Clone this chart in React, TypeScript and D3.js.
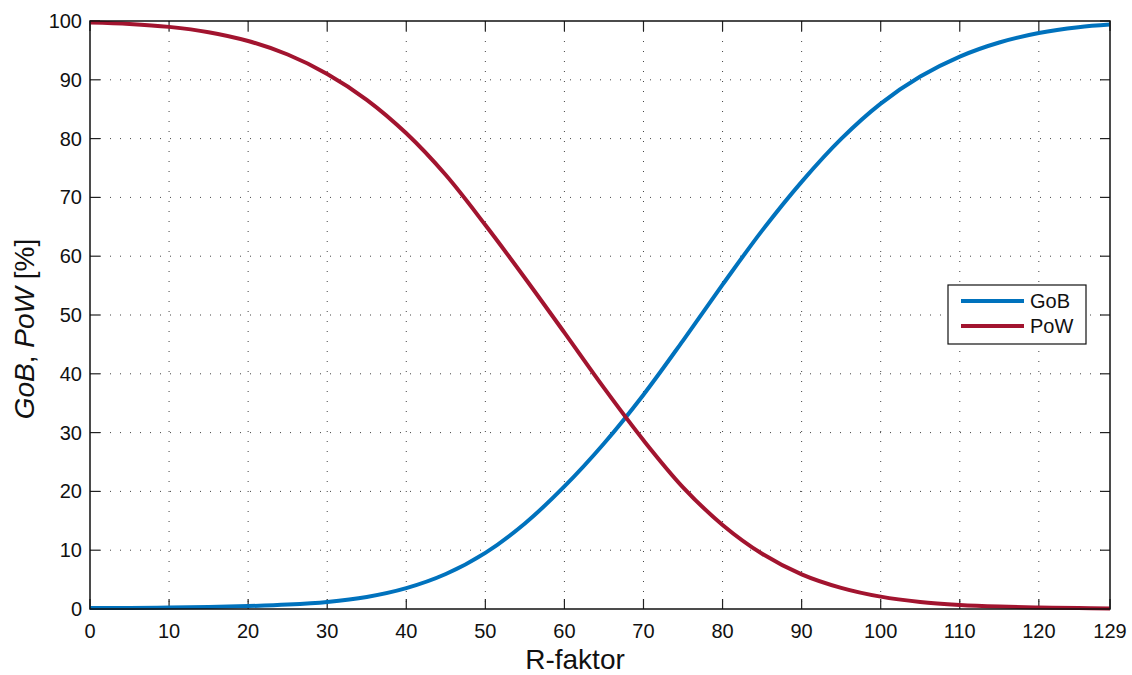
import React from "react";
import * as d3 from "d3";

const rFaktor = [0, 5, 10, 15, 20, 25, 30, 35, 40, 45, 50, 55, 60, 65, 70, 75, 80, 85, 90, 95, 100, 105, 110, 115, 120, 125, 129];
const gob = [0.15, 0.19, 0.25, 0.35, 0.5, 0.75, 1.2, 2.05, 3.55, 5.95, 9.55, 14.55, 20.85, 28.15, 36.45, 45.65, 55.15, 64.35, 72.65, 79.95, 85.95, 90.55, 93.95, 96.35, 97.95, 98.95, 99.4];
const pow = [99.75, 99.5, 99.0, 98.1, 96.6, 94.3, 91.0, 86.6, 80.9, 73.8, 65.3, 56.3, 47.0, 37.6, 28.7, 20.7, 14.3, 9.4, 5.9, 3.6, 2.1, 1.2, 0.7, 0.42, 0.26, 0.16, 0.1];
const xTicks = [0, 10, 20, 30, 40, 50, 60, 70, 80, 90, 100, 110, 120, 129];
const yTicks = [0, 10, 20, 30, 40, 50, 60, 70, 80, 90, 100];
const seriesNames = ["GoB", "PoW"];
const seriesColors = ["#0072BD", "#A2142F"];

const W = 1132, H = 675;
const m = { left: 90, right: 1110, top: 21, bottom: 609 };
const FONT = "'Liberation Sans', Arial, Helvetica, sans-serif";

export default function App() {
  const x = d3.scaleLinear().domain([0, 129]).range([m.left, m.right]);
  const y = d3.scaleLinear().domain([0, 100]).range([m.bottom, m.top]);
  const line = d3
    .line<number>()
    .x((_, i) => x(rFaktor[i]))
    .y((d) => y(d))
    .curve(d3.curveCatmullRom.alpha(0.5));
  const series = [gob, pow];
  const tickLen = 10;
  return (
    <svg width={W} height={H} style={{ position: "absolute", left: 0, top: 0, background: "#fff" }} fontFamily={FONT}>
      <rect x={0} y={0} width={W} height={H} fill="#fff" />
      {/* grid */}
      <g stroke="#444" strokeWidth={1} strokeDasharray="1,9">
        {xTicks.slice(1, -1).map((t) => (
          <line key={"gx" + t} x1={x(t)} x2={x(t)} y1={m.top} y2={m.bottom} />
        ))}
        {yTicks.slice(1, -1).map((t) => (
          <line key={"gy" + t} x1={m.left} x2={m.right} y1={y(t)} y2={y(t)} />
        ))}
      </g>
      {/* ticks */}
      <g stroke="#222" strokeWidth={1.2}>
        {xTicks.map((t) => (
          <g key={"tx" + t}>
            <line x1={x(t)} x2={x(t)} y1={m.bottom} y2={m.bottom - tickLen} />
            <line x1={x(t)} x2={x(t)} y1={m.top} y2={m.top + tickLen} />
          </g>
        ))}
        {yTicks.map((t) => (
          <g key={"ty" + t}>
            <line x1={m.left} x2={m.left + tickLen} y1={y(t)} y2={y(t)} />
            <line x1={m.right} x2={m.right - tickLen} y1={y(t)} y2={y(t)} />
          </g>
        ))}
      </g>
      {/* lines */}
      {series.map((s, i) => (
        <path key={seriesNames[i]} d={line(s) || ""} fill="none" stroke={seriesColors[i]} strokeWidth={4} strokeLinejoin="round" />
      ))}
      {/* box */}
      <rect x={m.left} y={m.top} width={m.right - m.left} height={m.bottom - m.top} fill="none" stroke="#111" strokeWidth={1.5} />
      {/* tick labels */}
      <g fontSize={20} fill="#111">
        {xTicks.map((t) => (
          <text key={"lx" + t} x={x(t)} y={m.bottom + 29} textAnchor="middle">
            {t}
          </text>
        ))}
        {yTicks.map((t) => (
          <text key={"ly" + t} x={m.left - 8} y={y(t) + 7} textAnchor="end">
            {t}
          </text>
        ))}
      </g>
      {/* axis labels */}
      <text x={575} y={669} textAnchor="middle" fontSize={28} fill="#111">
        R-faktor
      </text>
      <text transform={`translate(34, 329) rotate(-90)`} textAnchor="middle" fontSize={28} fill="#111">
        <tspan fontStyle="italic">GoB</tspan>
        <tspan>, </tspan>
        <tspan fontStyle="italic">PoW</tspan>
        <tspan> [%]</tspan>
      </text>
      {/* legend */}
      <g>
        <rect x={948} y={285} width={138} height={59} fill="#fff" stroke="#111" strokeWidth={1.2} />
        {seriesNames.map((n, i) => (
          <g key={"lg" + n}>
            <line x1={961} x2={1024} y1={301 + i * 25} y2={301 + i * 25} stroke={seriesColors[i]} strokeWidth={4} />
            <text x={1030} y={308 + i * 25} fontSize={20} fill="#111">
              {n}
            </text>
          </g>
        ))}
      </g>
    </svg>
  );
}
